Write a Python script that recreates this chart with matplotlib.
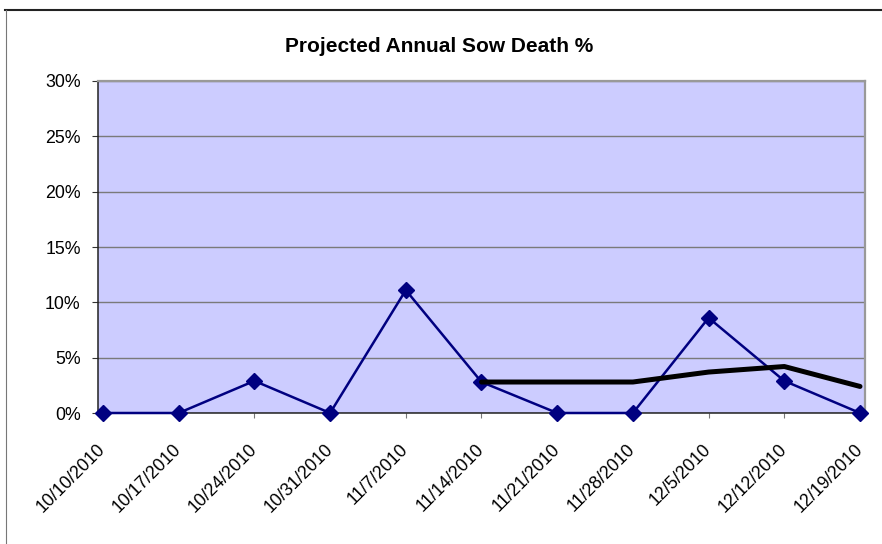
import matplotlib
matplotlib.use("Agg")
import matplotlib.pyplot as plt
from matplotlib.lines import Line2D
from matplotlib.ticker import FuncFormatter, MultipleLocator

dates = ["10/10/2010", "10/17/2010", "10/24/2010", "10/31/2010", "11/7/2010",
         "11/14/2010", "11/21/2010", "11/28/2010", "12/5/2010", "12/12/2010", "12/19/2010"]
weekly = [0.0, 0.0, 2.9, 0.0, 11.1, 2.8, 0.0, 0.0, 8.6, 2.9, 0.0]
avg_idx = [5, 6, 7, 8, 9, 10]
avg_vals = [2.8, 2.8, 2.8, 3.7, 4.2, 2.4]

plt.rcParams['font.family'] = ['Liberation Sans', 'DejaVu Sans']

W, H = 882, 544
fig = plt.figure(figsize=(W / 100, H / 100), dpi=100)
# outer chart frame (top and left visible)
fig.add_artist(Line2D([5 / W, 1.0], [1 - 9.5 / H, 1 - 9.5 / H], transform=fig.transFigure,
                      color='#222222', linewidth=1.5))
fig.add_artist(Line2D([5.5 / W, 5.5 / W], [0, 1 - 9.5 / H], transform=fig.transFigure,
                      color='#777777', linewidth=0.8))

ax = fig.add_axes([98 / W, 131 / H, 767 / W, 332 / H])
ax.set_facecolor('#CCCCFF')
x = list(range(len(dates)))
ax.plot(x, weekly, color='#000080', linewidth=1.8, marker='D', markersize=8.5,
        markerfacecolor='#000080', markeredgecolor='#000080', zorder=3, clip_on=False)
ax.plot(avg_idx, avg_vals, color='black', linewidth=3.6, solid_capstyle='round',
        solid_joinstyle='round', zorder=4)

ax.set_ylim(0, 30)
ax.set_xlim(-0.066, len(dates) - 1 + 0.066)
ax.yaxis.set_major_locator(MultipleLocator(5))
ax.yaxis.set_major_formatter(FuncFormatter(lambda v, p: f"{v:.0f}%"))
ax.grid(axis='y', color='#7a7a7a', linewidth=1.0)
ax.set_axisbelow(True)
ax.set_xticks(x)
ax.set_xticklabels(dates, rotation=45, ha='right', va='center', rotation_mode='anchor',
                   fontsize=12.8)
ax.tick_params(axis='y', labelsize=12.8, length=4.5, width=0.8, color='#333333', pad=8)
ax.tick_params(axis='x', length=3.6, width=0.8, color='#777777', pad=21)
for s in ['left', 'bottom']:
    ax.spines[s].set_color('#222222')
    ax.spines[s].set_linewidth(1.1)
for s in ['top', 'right']:
    ax.spines[s].set_color('#999999')
    ax.spines[s].set_linewidth(1.6)

fig.text(439 / W, 1 - 47 / H, "Projected Annual Sow Death %", ha='center', va='center',
         fontsize=15, fontweight='bold')

fig.savefig("out.png", dpi=100)
